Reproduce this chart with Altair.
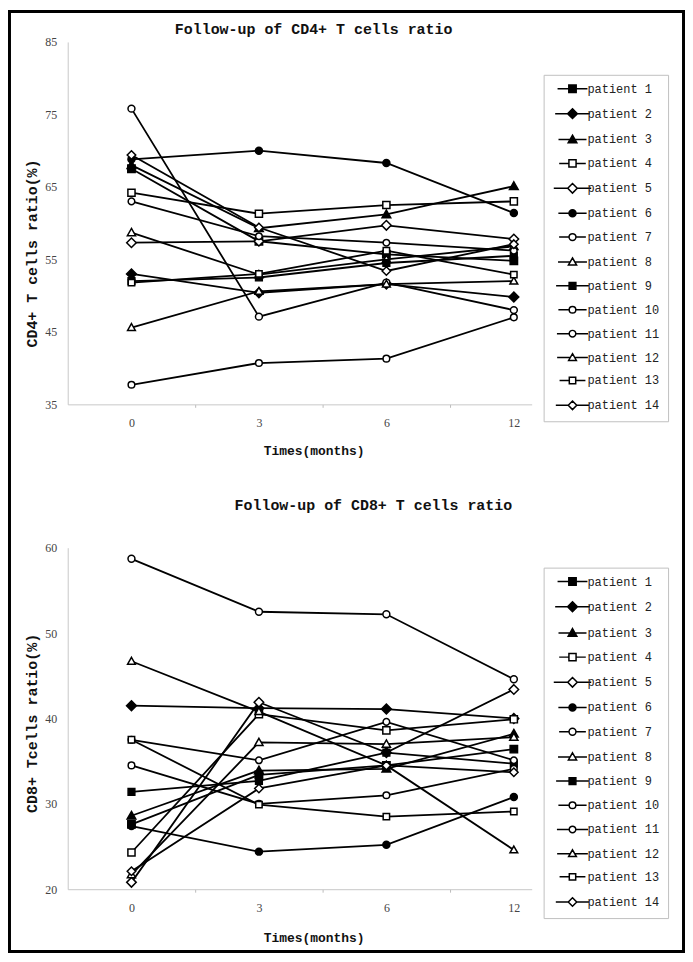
import math
import altair as alt
import pandas as pd

# ---------------- data ----------------
times = ["0", "3", "6", "12"]
patients = [f"patient {i}" for i in range(1, 15)]

cd4_m0 = [67.5, 53.0, 68.0, 64.2, 57.3, 68.8, 75.8, 58.7, 52.0, 37.7, 63.0, 45.6, 51.8, 69.4]
cd4_m3 = [57.5, 50.4, 59.3, 61.3, 57.5, 70.0, 47.1, 52.9, 52.5, 40.7, 58.2, 50.6, 53.0, 59.4]
cd4_m6 = [55.7, 51.6, 61.2, 62.5, 59.7, 68.3, 51.8, 55.0, 54.5, 41.3, 57.3, 51.6, 56.2, 53.4]
cd4_m12 = [54.8, 49.8, 65.1, 63.0, 57.8, 61.4, 48.0, 56.8, 55.5, 47.0, 56.2, 52.0, 52.9, 57.1]

cd8_m0 = [27.6, 41.5, 28.6, 24.3, 20.8, 27.4, 58.7, 21.7, 31.4, 34.5, 37.5, 46.7, 37.5, 22.1]
cd8_m3 = [33.4, 41.2, 33.9, 40.5, 41.9, 24.4, 52.5, 37.2, 32.7, 30.0, 35.1, 40.8, 29.9, 31.8]
cd8_m6 = [34.5, 41.1, 34.1, 38.6, 36.0, 25.2, 52.2, 37.0, 36.0, 31.0, 39.6, 34.5, 28.5, 34.5]
cd8_m12 = [36.4, 40.0, 38.2, 39.9, 43.4, 30.8, 44.6, 37.8, 34.7, 34.1, 35.1, 24.6, 29.1, 33.7]

# ---------------- styles ----------------
marker_kind = ["square", "diamond", "triangle", "square", "diamond", "circle", "circle",
               "triangle", "square", "circle", "circle", "triangle", "square", "diamond"]
marker_filled = [True, True, True, False, False, True, False,
                 False, True, False, False, False, False, False]
marker_size = [55, 40, 60, 65, 32, 55, 60, 50, 38, 50, 40, 40, 55, 32]

SHAPES = {
    "square": ("M-1,-1H1V1H-1Z", 1.0),
    "diamond": ("M0,-1.35L1.35,0L0,1.35L-1.35,0Z", 1.35),
    "triangle": ("M0,-1.2L1.2,0.9L-1.2,0.9Z", 0.66),
    "circle": ("M-1,0A1,1,0,1,0,1,0A1,1,0,1,0,-1,0Z", 1.0),
}
STUB_PX = 15.0

marker_paths = [SHAPES[k][0] for k in marker_kind]
legend_paths = []
for k, s in zip(marker_kind, marker_size):
    unit = math.sqrt(s) / 2.0
    L = STUB_PX / unit
    e = SHAPES[k][1]
    legend_paths.append(f"M{-L:.3f},0H{-e}M{e},0H{L:.3f}" + SHAPES[k][0])
fill_colors = ["black" if f else "white" for f in marker_filled]
stroke_colors = ["black"] * len(patients)

SERIF = "Liberation Serif"
MONO = "Liberation Mono"


def frame_piece(x0, x1, y0, y1):
    return alt.Chart(pd.DataFrame({"k": [0]})).mark_rect(color="black").encode(
        x=alt.value(x0), x2=alt.value(x1), y=alt.value(y0), y2=alt.value(y1)
    )


def panel(cols, ydomain, yvalues, height, ytitle, ytitle_y, title, title_x, title_y,
          xtitle_y, legend_y, row_pad, frames):
    rows = []
    for i, p in enumerate(patients):
        for j, t in enumerate(times):
            rows.append({"patient": p, "idx": j, "month": t, "value": cols[j][i]})
    df = pd.DataFrame(rows)

    x = alt.X(
        "idx:Q",
        scale=alt.Scale(domain=[-0.5, 3.14], nice=False, zero=False),
        axis=alt.Axis(
            values=[0, 0.5, 1, 1.5, 2, 2.5, 3],
            labelExpr="datum.value == 0 ? '0' : datum.value == 1 ? '3' : datum.value == 2 ? '6' : datum.value == 3 ? '12' : ''",
            title="Times(months)",
            titleFont=MONO, titleFontSize=13, titleFontWeight="bold", titleColor="#111",
            titleX=247, titleY=xtitle_y, titleBaseline="middle", titleAlign="center",
            labelFont=SERIF, labelFontSize=12, labelColor="#444", labelPadding=10,
            tickSize=3, tickColor="#bbb",
            tickOpacity={"condition": {"test": "datum.value % 1 !== 0", "value": 1}, "value": 0},
            domainColor="#c8c8c8", grid=False, labelFlush=False,
        ),
    )
    y = alt.Y(
        "value:Q",
        scale=alt.Scale(domain=ydomain, nice=False, zero=False),
        axis=alt.Axis(
            values=yvalues, title=ytitle,
            titleFont=MONO, titleFontSize=15, titleFontWeight="bold", titleColor="#111",
            titleX=-36, titleY=ytitle_y, titleBaseline="middle", titleAlign="center", titleAngle=-90,
            labelFont=SERIF, labelFontSize=12, labelColor="#444", labelPadding=11,
            ticks=False, domainColor="#c8c8c8", grid=False,
        ),
    )
    base = alt.Chart(df)
    lines = base.mark_line(color="black", strokeWidth=1.8).encode(x=x, y=y, detail="patient:N")
    points = base.mark_point(filled=True, stroke="black", strokeWidth=1.5, opacity=1).encode(
        x=x, y=y,
        shape=alt.Shape("patient:N", scale=alt.Scale(domain=patients, range=marker_paths), legend=None),
        fill=alt.Fill("patient:N", scale=alt.Scale(domain=patients, range=fill_colors), legend=None),
        size=alt.Size("patient:N", scale=alt.Scale(domain=patients, range=marker_size), legend=None),
    )
    leg = alt.Legend(
        title=None, orient="none", legendX=478, legendY=legend_y, padding=8,
        strokeColor="#c0c0c0", fillColor="white",
        labelFont=MONO, labelFontSize=12, labelColor="#222",
        rowPadding=row_pad, symbolOffset=15, labelOffset=9,
        symbolStrokeWidth=1.5,
    )
    dummy = base.mark_point(filled=True, opacity=1).encode(
        x=alt.value(530), y=alt.value(legend_y + 150),
        shape=alt.Shape("patient:N", scale=alt.Scale(domain=patients, range=legend_paths), legend=leg),
        fill=alt.Fill("patient:N", scale=alt.Scale(domain=patients, range=fill_colors), legend=leg),
        stroke=alt.Stroke("patient:N", scale=alt.Scale(domain=patients, range=stroke_colors), legend=leg),
        size=alt.Size("patient:N", scale=alt.Scale(domain=patients, range=marker_size), legend=leg),
    )
    ttl = alt.Chart(pd.DataFrame({"k": [0]})).mark_text(
        font=MONO, fontSize=15, fontWeight="bold", color="#111", align="center", baseline="middle"
    ).encode(x=alt.value(title_x), y=alt.value(title_y), text=alt.value(title))

    layers = [frame_piece(*f) for f in frames] + [lines, points, dummy, ttl]
    return alt.layer(*layers).properties(width=466, height=height).resolve_scale(
        shape="independent", fill="independent", size="independent", stroke="independent"
    )


top = panel(
    [cd4_m0, cd4_m3, cd4_m6, cd4_m12], [35, 85], [35, 45, 55, 65, 75, 85], 364,
    "CD4+ T cells ratio(%)", 212, "Follow-up of CD4+ T cells ratio", 247, -13, 46, 33, 10.0,
    frames=[(-60, 620, -32, -29), (-60, -57, -32, 440), (617, 620, -32, 440)],
)
bottom = panel(
    [cd8_m0, cd8_m3, cd8_m6, cd8_m12], [20, 60], [20, 30, 40, 50, 60], 343,
    "CD8+ Tcells ratio(%)", 176, "Follow-up of CD8+ T cells ratio", 307, -43, 49, 20, 10.3,
    frames=[(-60, -57, -68, 407), (617, 620, -68, 407), (-60, 620, 404, 407)],
)

chart = alt.vconcat(top, bottom, spacing=0).resolve_scale(
    shape="independent", fill="independent", size="independent", stroke="independent"
).resolve_legend(
    shape="independent", fill="independent", size="independent", stroke="independent"
).properties(padding=0).configure_view(strokeWidth=0)

chart.save("out.html", embed_options={"renderer": "svg", "actions": False})
